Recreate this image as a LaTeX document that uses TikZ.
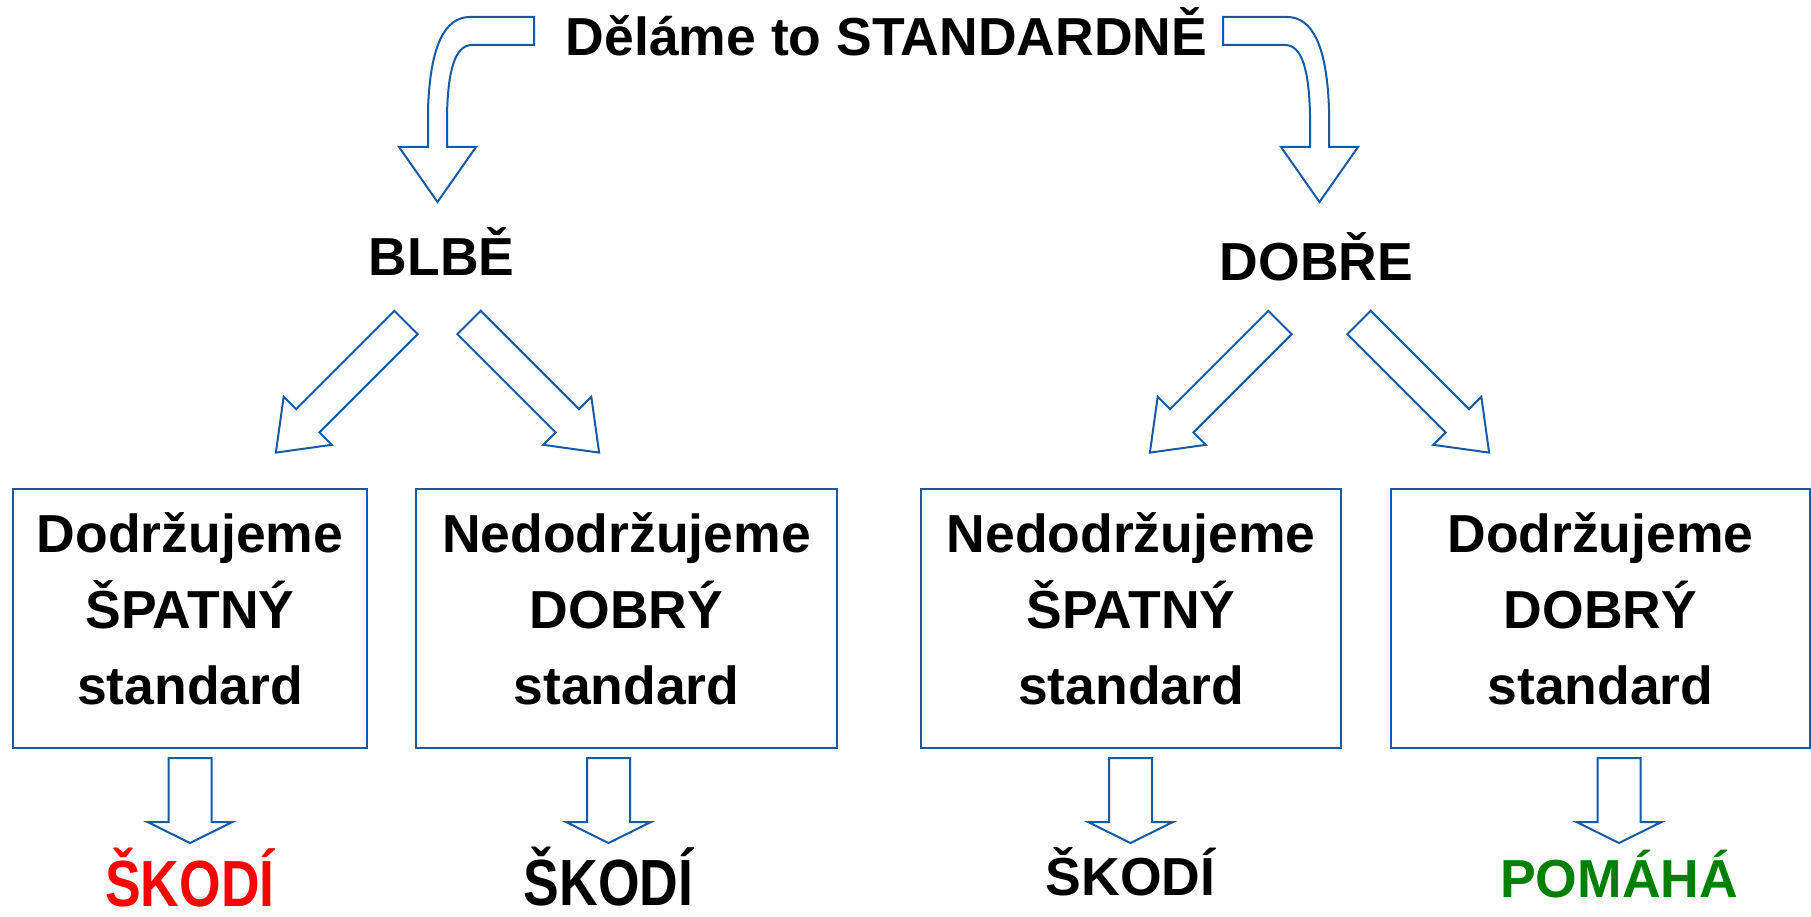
\documentclass[tikz,border=0pt]{standalone}
\usepackage{fontspec}
\setmainfont{Liberation Sans}
\usetikzlibrary{positioning,calc}

\definecolor{arrowblue}{RGB}{22,90,166}
\definecolor{goodgreen}{RGB}{0,128,0}

\tikzset{
  bigtext/.style={font=\fontsize{53.5}{76}\selectfont\bfseries, inner sep=0pt},
  stdbox/.style={draw=arrowblue, line width=2pt, minimum height=259pt},
  boxtext/.style={bigtext, align=center},
  blockarrow/.style={draw=arrowblue, line width=2pt, line join=miter, fill=white},
}

\begin{document}
\begin{tikzpicture}[x=1pt, y=1pt]
  \useasboundingbox (0,0) rectangle (1811,-917);

  % title and the two ways of doing it
  \node[bigtext, anchor=base] (title) at (886.5,-56) {Děláme to STANDARDNĚ};
  \node[bigtext, anchor=base] (blbe) at (441.5,-275) {BLBĚ};
  \node[bigtext, anchor=base] (dobre) at (1316.5,-280) {DOBŘE};

  % the four standards
  \node[stdbox, minimum width=354pt] (b1) at (190,-618.5) {};
  \node[stdbox, minimum width=421pt] (b2) at (626.5,-618.5) {};
  \node[stdbox, minimum width=420pt] (b3) at (1131,-618.5) {};
  \node[stdbox, minimum width=419pt] (b4) at (1600.5,-618.5) {};
  \node[boxtext] (t1) at ([yshift=10pt]b1.center) {Dodržujeme\\ŠPATNÝ\\standard};
  \node[boxtext] (t2) at ([yshift=10pt]b2.center) {Nedodržujeme\\DOBRÝ\\standard};
  \node[boxtext] (t3) at ([yshift=10pt]b3.center) {Nedodržujeme\\ŠPATNÝ\\standard};
  \node[boxtext] (t4) at ([yshift=10pt]b4.center) {Dodržujeme\\DOBRÝ\\standard};

  % results
  \node[bigtext, anchor=base, text=red] (r1) at (190,-906) {\scalebox{1}[1.22]{ŠKODÍ}};
  \node[bigtext, anchor=base] (r2) at (608.5,-905) {\scalebox{1}[1.22]{ŠKODÍ}};
  \node[bigtext, anchor=base] (r3) at (1130.5,-895) {ŠKODÍ};
  \node[bigtext, anchor=base, text=goodgreen] (r4) at (1619,-897) {POMÁHÁ};

  % curved arrows from the title
  \draw[blockarrow] (534,-17) -- (470,-17) .. controls (445,-17) and (430,-45) .. (428,-110)
    -- (428,-147) -- (399,-147) -- (437.5,-202) -- (476,-147) -- (447,-147) -- (447,-115)
    .. controls (448,-70) and (455,-45) .. (472,-45) -- (534,-45) -- cycle;
  \begin{scope}[xshift=1757pt, xscale=-1]
    \draw[blockarrow] (534,-17) -- (470,-17) .. controls (445,-17) and (430,-45) .. (428,-110)
      -- (428,-147) -- (399,-147) -- (437.5,-202) -- (476,-147) -- (447,-147) -- (447,-115)
      .. controls (448,-70) and (455,-45) .. (472,-45) -- (534,-45) -- cycle;
  \end{scope}

  % diagonal arrows
  \def\alen{184}   % tail to tip
  \def\ahead{45}   % head length
  \def\ashaft{16.5}
  \def\awing{34}
  \foreach \t/\ang in {406/-135, 469/-45, 1280/-135, 1359/-45} {
    \draw[blockarrow, shift={(\t,-322.5)}, rotate=\ang]
      (0,-\ashaft) -- (\alen-\ahead,-\ashaft) -- (\alen-\ahead,-\awing) -- (\alen,0)
      -- (\alen-\ahead,\awing) -- (\alen-\ahead,\ashaft) -- (0,\ashaft) -- cycle;
  }

  % down arrows from the boxes to the results
  \foreach \b/\r in {b1/r1, b2/r2, b3/r3, b4/r4} {
    \draw[blockarrow, shift={(\r.base |- \b.south)}]
      (-21.5,-9) -- (-21.5,-73) -- (-42.5,-73) -- (0,-94) -- (42.5,-73) -- (21.5,-73)
      -- (21.5,-9) -- cycle;
  }
\end{tikzpicture}
\end{document}
